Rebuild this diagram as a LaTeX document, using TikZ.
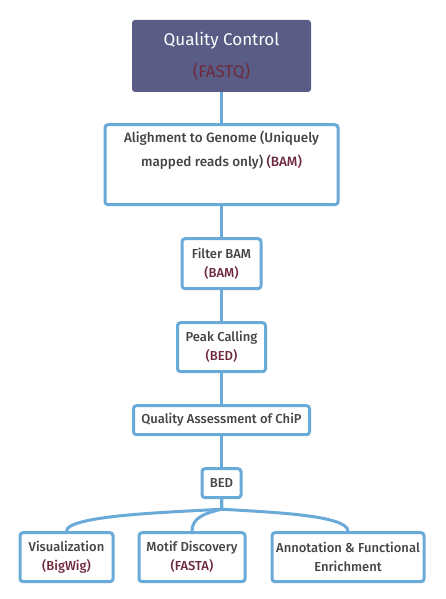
\documentclass[tikz,border=0pt]{standalone}
\usepackage{fontspec}
\setmainfont{Fira Sans}[BoldFont={Fira Sans Medium}]
\usetikzlibrary{positioning}

\definecolor{linkblue}{HTML}{6AAAD8}
\definecolor{headfill}{HTML}{595D85}
\definecolor{fmtred}{HTML}{6E2A3C}
\definecolor{bodygrey}{HTML}{444444}

\begin{document}
\begin{tikzpicture}[
			x=1pt, y=-1pt,
			node distance=31pt and 23pt,
			every node/.style={align=center, font=\fontsize{13}{19}\selectfont\bfseries, text=bodygrey},
			box/.style={rectangle, draw=linkblue, line width=3pt, rounded corners=3pt, fill=white, inner sep=2pt},
			head/.style={rectangle, fill=headfill, rounded corners=3pt, minimum width=179pt, minimum height=72pt,
				font=\fontsize{17}{32}\selectfont, text=white},
			link/.style={draw=linkblue, line width=3pt}
			]
			\useasboundingbox (0,0) rectangle (446,599);
			% Nodes
			\node[head] (qc) at (221.5,56) {Quality Control\\{\color{fmtred}(FASTQ)}};
			\node[box, below=of qc, minimum width=233pt, minimum height=80pt,
				font=\fontsize{13.5}{24}\selectfont\bfseries] (align) {Alighment to Genome (Uniquely\\mapped reads only) {\color{fmtred}(BAM)}\\\strut};
			\node[box, below=of align, minimum width=79pt, minimum height=50pt] (filter) {Filter BAM\\{\color{fmtred}(BAM)}};
			\node[box, below=of filter, minimum width=88pt, minimum height=49pt] (peak) {Peak Calling\\{\color{fmtred}(BED)}};
			\node[box, below=of peak, minimum width=176pt, minimum height=29pt] (qa) {Quality Assessment of ChiP};
			\node[box, below=of qa, minimum width=39pt, minimum height=29pt] (bed) {BED};
			\node[box, below=32pt of bed, xshift=-29.5pt, minimum width=106pt, minimum height=49pt] (motif) {Motif Discovery\\{\color{fmtred}(FASTA)}};
			\node[box, left=of motif, minimum width=93pt, minimum height=49pt] (vis) {Visualization\\{\color{fmtred}(BigWig)}};
			\node[box, right=24pt of motif, minimum width=152pt, minimum height=49pt] (annot) {Annotation \& Functional\\Enrichment};
			\coordinate (split) at ([yshift=-10pt]bed.south);
			
			% Connectors
			\draw[link] (qc) -- (align);
			\draw[link] (align) -- (filter);
			\draw[link] (filter) -- (peak);
			\draw[link] (peak) -- (qa);
			\draw[link] (qa) -- (bed);
			\draw[link] (bed.south) -- (split) .. controls +(-50,3) and +(0,-16) .. (vis.north);
			\draw[link] (bed.south) -- (split) .. controls +(-16,4) and +(0,-14) .. (motif.north);
			\draw[link] (bed.south) -- (split) .. controls +(50,3) and +(0,-16) .. (annot.north);
		\end{tikzpicture}
\end{document}
